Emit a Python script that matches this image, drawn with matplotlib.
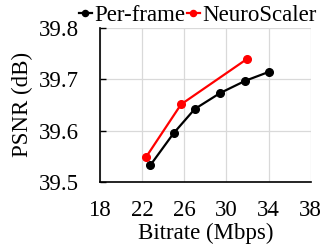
import matplotlib
matplotlib.use("Agg")
import matplotlib.pyplot as plt

# data
perframe_x = [22.8, 25.0, 27.0, 29.4, 31.8, 34.0]
perframe_y = [39.533, 39.595, 39.642, 39.673, 39.697, 39.714]
neuro_x = [22.4, 25.7, 32.0]
neuro_y = [39.549, 39.651, 39.740]

x_ticks = [18, 22, 26, 30, 34, 38]
y_ticks = [39.5, 39.6, 39.7, 39.8]

plt.rcParams['font.family'] = ['Liberation Serif', 'DejaVu Serif']
plt.rcParams['font.size'] = 16.5

fig = plt.figure(figsize=(3.22, 2.46), dpi=100)
ax = fig.add_axes([0.310, 0.26, 0.655, 0.627])

ax.plot(perframe_x, perframe_y, color='black', marker='o', markersize=5.5,
        linewidth=1.6, label='Per-frame')
ax.plot(neuro_x, neuro_y, color='#ff0000', marker='o', markersize=5.5,
        linewidth=1.6, label='NeuroScaler')

ax.set_xlim(18, 38)
ax.set_ylim(39.5, 39.8)
ax.set_xticks(x_ticks)
ax.set_yticks(y_ticks)
ax.set_yticklabels([f"{v:.1f}" for v in y_ticks])
ax.grid(True, color='#d9d9d9', linewidth=0.9)
ax.set_axisbelow(True)

for s in ['top', 'right']:
    ax.spines[s].set_visible(False)
for s in ['left', 'bottom']:
    ax.spines[s].set_linewidth(1.2)
ax.tick_params(axis='x', length=0, pad=13)
ax.tick_params(axis='y', direction='in', length=4, width=1.0, pad=15)

ax.set_xlabel('Bitrate (Mbps)', labelpad=1)
ax.set_ylabel('PSNR (dB)', labelpad=4)

ax.legend(loc='center left', bbox_to_anchor=(79 / 322, 1 - 15 / 246),
          bbox_transform=fig.transFigure, ncol=2, frameon=False,
          handlelength=0.55, handletextpad=0.1, columnspacing=0.1,
          borderpad=0, borderaxespad=0, markerscale=0.8)

fig.savefig('out.png', dpi=100)
